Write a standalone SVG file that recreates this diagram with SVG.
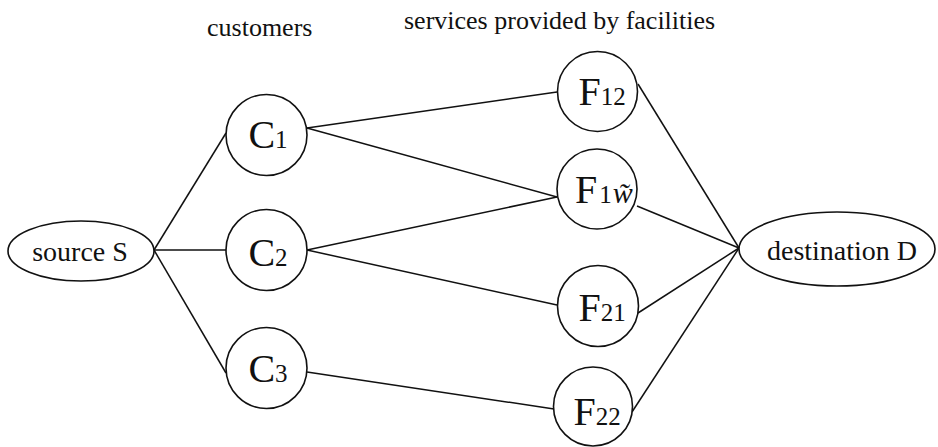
<svg xmlns="http://www.w3.org/2000/svg" width="938" height="447" viewBox="0 0 938 447">
  <style>
    .edge { stroke: #111; stroke-width: 1.5; fill: none; }
    .node { stroke: #111; stroke-width: 1.6; fill: #fff; }
    .lbl { font-family: "Liberation Serif", "DejaVu Serif", serif; fill: #111; }
    .main { font-size: 40px; }
    .sub { font-size: 25px; }
    .title { font-size: 26px; }
    .term { font-size: 28px; }
  </style>
  <rect width="938" height="447" fill="#fff"/>

  <!-- column headings -->
  <text class="lbl title" x="207" y="36">customers</text>
  <text class="lbl title" x="404" y="29">services provided by facilities</text>

  <!-- connectors -->
  <g id="edges">
    <line class="edge" x1="154" y1="250" x2="226" y2="133"/>
    <line class="edge" x1="154" y1="250" x2="226" y2="250"/>
    <line class="edge" x1="154" y1="250" x2="226" y2="373"/>
    <line class="edge" x1="307" y1="128" x2="557" y2="92"/>
    <line class="edge" x1="307" y1="128" x2="557" y2="197"/>
    <line class="edge" x1="307" y1="250" x2="557" y2="197"/>
    <line class="edge" x1="307" y1="250" x2="557" y2="305"/>
    <line class="edge" x1="307" y1="372" x2="554" y2="409"/>
    <line class="edge" x1="638" y1="84" x2="739" y2="248"/>
    <line class="edge" x1="637" y1="206" x2="739" y2="248"/>
    <line class="edge" x1="638" y1="313" x2="739" y2="248"/>
    <line class="edge" x1="632" y1="412" x2="739" y2="248"/>
  </g>

  <g id="source">
    <ellipse class="node" cx="81" cy="251" rx="73" ry="30"/>
    <text class="lbl term" x="80" y="261" text-anchor="middle">source S</text>
  </g>

  <g id="c1">
    <circle class="node" cx="266.5" cy="135" r="40.5"/>
    <text class="lbl main" x="268" y="148" text-anchor="middle">C<tspan class="sub">1</tspan></text>
  </g>
  <g id="c2">
    <circle class="node" cx="266.5" cy="250" r="40.5"/>
    <text class="lbl main" x="268" y="266" text-anchor="middle">C<tspan class="sub">2</tspan></text>
  </g>
  <g id="c3">
    <circle class="node" cx="266.5" cy="368" r="40.5"/>
    <text class="lbl main" x="268" y="382" text-anchor="middle">C<tspan class="sub">3</tspan></text>
  </g>

  <g id="f12">
    <circle class="node" cx="597.5" cy="91.5" r="40"/>
    <text class="lbl main" x="602" y="105" text-anchor="middle">F<tspan class="sub">12</tspan></text>
  </g>
  <g id="f1w">
    <circle class="node" cx="597" cy="189" r="40"/>
    <text class="lbl main" x="575" y="203">F<tspan class="sub" dx="2">1</tspan><tspan font-size="30" font-style="italic" dx="1">w&#x303;</tspan></text>
  </g>
  <g id="f21">
    <circle class="node" cx="598" cy="306" r="40.5"/>
    <text class="lbl main" x="602" y="321" text-anchor="middle">F<tspan class="sub">21</tspan></text>
  </g>
  <g id="f22">
    <circle class="node" cx="593" cy="406.5" r="39.5"/>
    <text class="lbl main" x="597" y="425" text-anchor="middle">F<tspan class="sub">22</tspan></text>
  </g>

  <g id="destination">
    <ellipse class="node" cx="837" cy="249" rx="98" ry="37"/>
    <text class="lbl term" x="842" y="260" text-anchor="middle">destination D</text>
  </g>
</svg>
